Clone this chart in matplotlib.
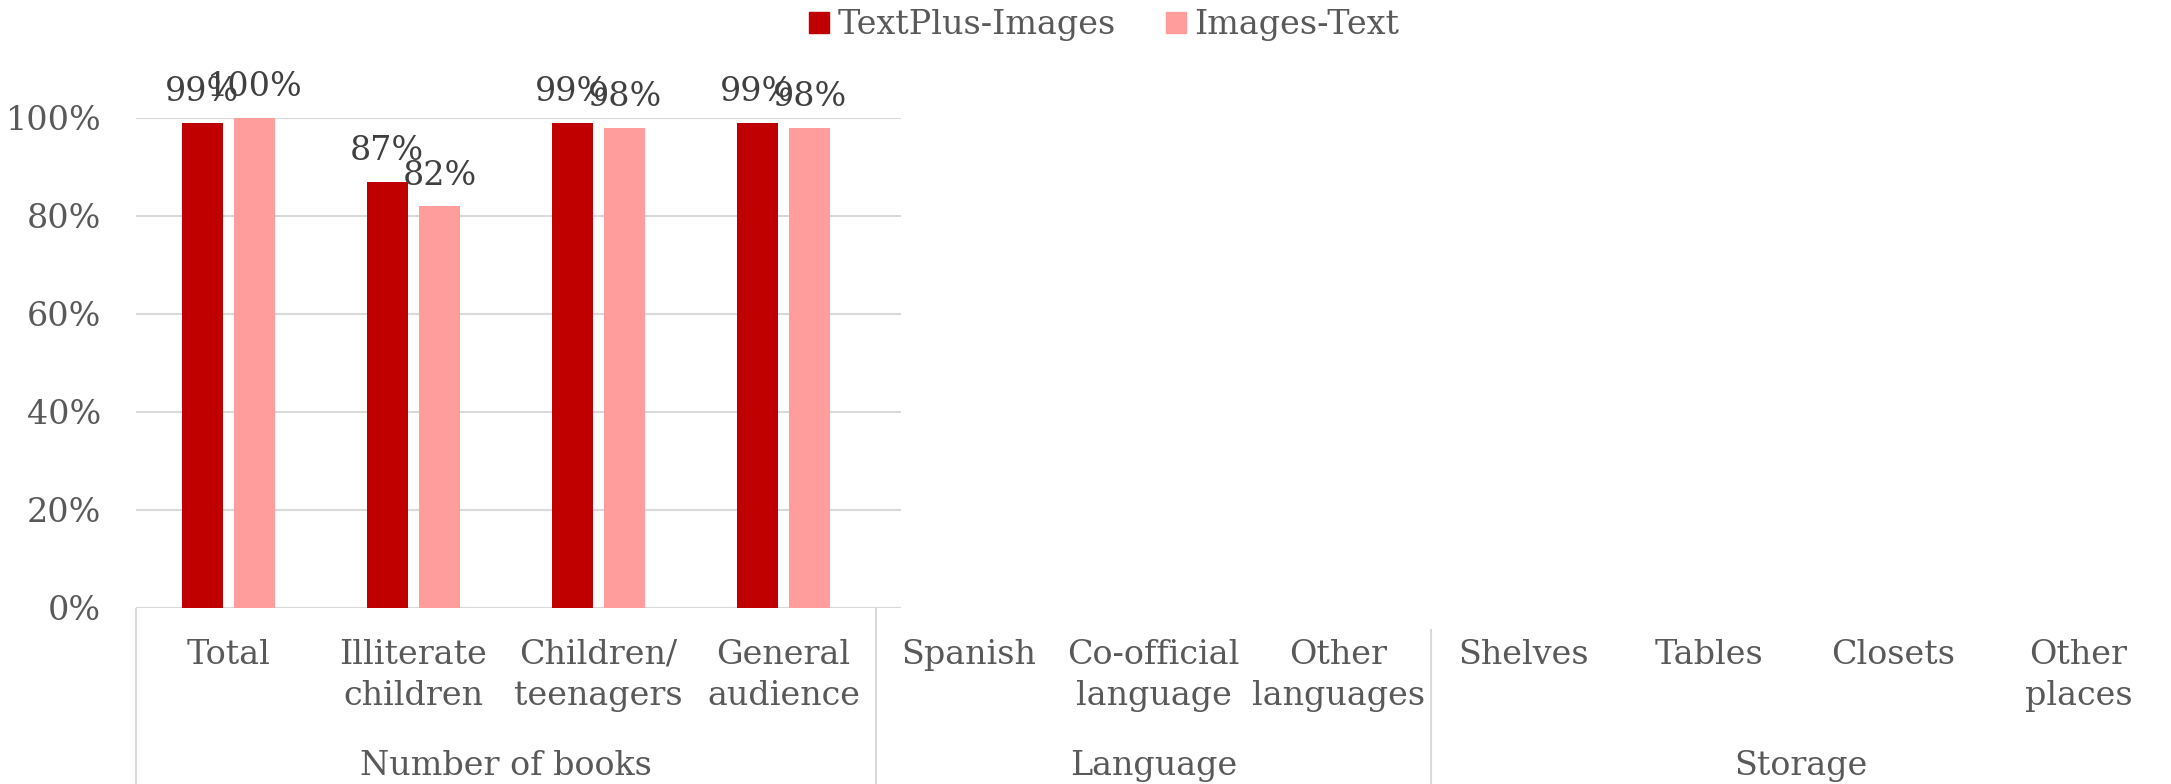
import matplotlib
matplotlib.use("Agg")
import matplotlib.pyplot as plt
from matplotlib.patches import Patch
from matplotlib.transforms import blended_transform_factory
from matplotlib.ticker import FuncFormatter

# ---- data ----
categories = ["Total", "Illiterate\nchildren", "Children/\nteenagers", "General\naudience",
              "Spanish", "Co-official\nlanguage", "Other\nlanguages",
              "Shelves", "Tables", "Closets", "Other\nplaces"]
groups = ["Number of books", "Language", "Storage"]
group_sizes = [4, 3, 4]
series_names = ["TextPlus-Images", "Images-Text"]
text_plus_images = [0.99, 0.87, 0.99, 0.99]
images_text = [1.00, 0.82, 0.98, 0.98]
yticks = [0, 0.2, 0.4, 0.6, 0.8, 1.0]

# ---- style ----
plt.rcParams['font.family'] = ['DejaVu Serif']
FS = 24
dark = "#C00000"
light = "#FF9D9D"
txt = "#595959"
lbl = "#404040"
gridc = "#D9D9D9"

W, H = 2171, 784
fig = plt.figure(figsize=(W / 100, H / 100), dpi=100)
ax = fig.add_axes([136 / W, 1 - 608 / H, (901 - 136) / W, (608 - 118) / H])

bw = 0.222
off = 0.142
xs = list(range(len(text_plus_images)))
b1 = ax.bar([x - off for x in xs], text_plus_images, width=bw, color=dark, zorder=3)
b2 = ax.bar([x + off for x in xs], images_text, width=bw, color=light, zorder=3)

for bars, vals in ((b1, text_plus_images), (b2, images_text)):
    for r, v in zip(bars, vals):
        ax.annotate(f"{v*100:.0f}%", (r.get_x() + r.get_width() / 2, v),
                    xytext=(0, 22), textcoords="offset points",
                    ha="center", va="center", fontsize=FS, color=lbl,
                    annotation_clip=False, zorder=5)

ax.set_xlim(-0.5, 3.5 + 25 / 185)
ax.set_ylim(0, 1.0)
ax.set_yticks(yticks)
ax.yaxis.set_major_formatter(FuncFormatter(lambda v, p: f"{v*100:.0f}%"))
ax.tick_params(axis="y", length=0, pad=25, labelsize=FS, labelcolor=txt)
ax.set_xticks([])
for s in ax.spines.values():
    s.set_visible(False)
ax.set_axisbelow(True)
ax.yaxis.grid(True, color=gridc, lw=1.5)
ax.axhline(0, color=gridc, lw=1.5, zorder=2)

# ---- multi-level category axis ----
tr = blended_transform_factory(ax.transData, fig.transFigure)
for i, c in enumerate(categories):
    ax.text(i, 1 - 639 / H, c, transform=tr, ha="center", va="top",
            fontsize=FS, color=txt, clip_on=False, linespacing=1.36)

start = 0
sep_tops = [1 - 609 / H, 1 - 609 / H, 1 - 630 / H]
for gi, (g, n) in enumerate(zip(groups, group_sizes)):
    mid = start + (n - 1) / 2
    ax.text(mid, 1 - 775 / H, g, transform=tr, ha="center", va="baseline",
            fontsize=FS, color=txt, clip_on=False)
    ax.plot([start - 0.5, start - 0.5], [sep_tops[gi], 0], transform=tr,
            color=gridc, lw=1.5, clip_on=False)
    start += n

# ---- legend ----
handles = [Patch(color=dark, label=series_names[0]), Patch(color=light, label=series_names[1])]
fig.legend(handles=handles, loc="center", bbox_to_anchor=(1104 / W, 1 - 25 / H), ncol=2,
           frameon=False, fontsize=FS, labelcolor=txt, handlelength=0.6,
           handleheight=0.6, handletextpad=0.25, columnspacing=1.5)

fig.savefig("out.png", dpi=100)
